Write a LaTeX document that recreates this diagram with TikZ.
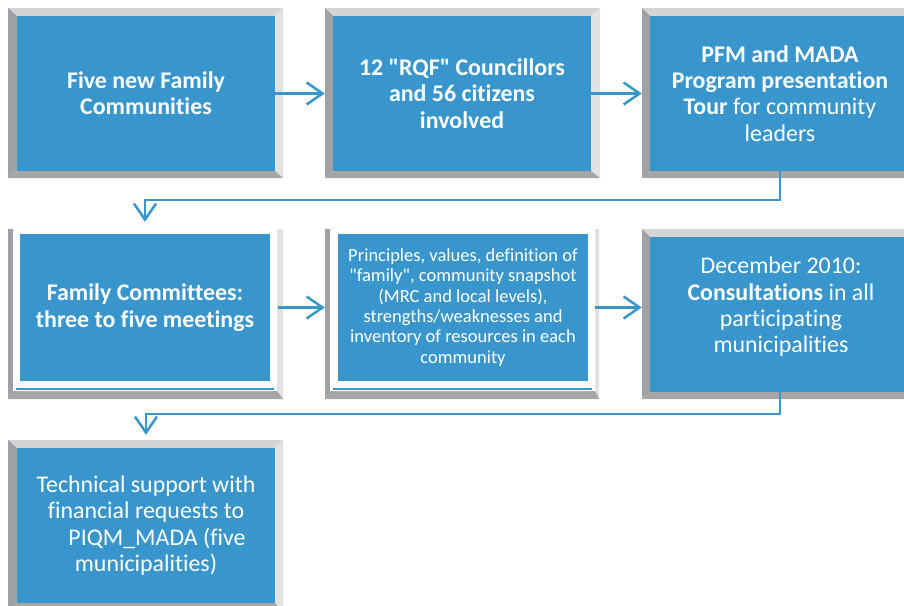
\documentclass[tikz,border=0pt]{standalone}
\usepackage{fontspec}
\setmainfont[Ligatures={TeXOff,NoCommon}]{Carlito}
\usetikzlibrary{arrows.meta,calc}
\definecolor{boxblue}{RGB}{56,150,204}
\definecolor{bvtop}{RGB}{212,212,212}
\definecolor{bvleft}{RGB}{158,161,165}
\definecolor{bvright}{RGB}{226,226,226}
\definecolor{bvbot}{RGB}{166,166,166}
\newcommand\bevelbox[8]{%
  \fill[bvtop] (#1,#2) -- (#3,#2) -- (#7,#6) -- (#5,#6) -- cycle;
  \fill[bvleft] (#1,#2) -- (#5,#6) -- (#5,#8) -- (#1,#4) -- cycle;
  \fill[bvright] (#3,#2) -- (#7,#6) -- (#7,#8) -- (#3,#4) -- cycle;
  \fill[bvbot] (#1,#4) -- (#5,#8) -- (#7,#8) -- (#3,#4) -- cycle;
}
\tikzset{
  bluebox/.style={fill=boxblue, draw=none, text=white, align=center, inner sep=0pt},
  bigtext/.style={font=\fontsize{23.9}{26.3}\selectfont},
  smalltext/.style={font=\fontsize{18.5}{20.3}\selectfont},
  plaintext/.style={text=white, align=center, inner sep=0pt},
  arr/.style={draw=boxblue, line width=2.5pt, -{Straight Barb[length=16pt,width=22pt,line width=2.5pt]}},
}
\begin{document}
\begin{tikzpicture}[x=1pt,y=-1pt]
\useasboundingbox (0,0) rectangle (904,605);
\clip (0,0) rectangle (904,605);
\fill[white] (0,0) rectangle (904,605);

% row 1 frames
\bevelbox{8}{8}{283}{178}{17}{16}{275}{171}
\bevelbox{325}{8}{600}{178}{333}{16}{591}{171}
\bevelbox{642}{8}{918}{178}{650}{16}{910}{171}
% row 2 frames
\bevelbox{8}{229}{283}{399}{13}{229}{277}{391}
\bevelbox{325}{229}{599}{399}{330}{229}{595}{391}
\bevelbox{642}{229}{918}{399}{650}{237}{910}{392}
% row 3 frame
\bevelbox{8}{440}{283}{611}{17}{448}{275}{603}

% white inner panels of row 2
\fill[white, rounded corners=4pt] (13,229) rectangle (277,391);
\draw[boxblue, line width=2.5pt] (16,389) -- (274,389);
\fill[white, rounded corners=4pt] (330,229) rectangle (595,391);
\draw[boxblue, line width=2.5pt] (333,389) -- (592,389);

% nodes
\node[bluebox, bigtext, minimum width=258pt, minimum height=155pt] (b1) at (146,93.5)
  {\textbf{Five new Family}\\\textbf{Communities}};
\node[bluebox, bigtext, minimum width=258pt, minimum height=155pt] (b2) at (462,93.5)
  {\textbf{12 "RQF" Councillors}\\\textbf{and 56 citizens}\\\textbf{involved}};
\node[bluebox, bigtext, minimum width=260pt, minimum height=155pt] (b3) at (780,93.5)
  {\textbf{PFM and MADA}\\\textbf{Program presentation}\\\textbf{Tour} for community\\leaders};
\node[bluebox, bigtext, minimum width=250pt, minimum height=147pt] (b4) at (145,307.5)
  {\textbf{Family Committees:}\\\textbf{three to five meetings}};
\node[bluebox, smalltext, minimum width=250pt, minimum height=147pt] (b5) at (463,307.5)
  {Principles, values, definition of\\"family", community snapshot\\(MRC and local levels),\\strengths/weaknesses and\\inventory of resources in each\\community};
\node[bluebox, minimum width=260pt, minimum height=155pt] (b6) at (780,314.5) {};
\node[plaintext, bigtext] (t6) at (781,307)
  {December 2010:\\\textbf{Consultations} in all\\participating\\municipalities};
\node[bluebox, bigtext, minimum width=258pt, minimum height=155pt] (b7) at (146,525.5)
  {Technical support with\\financial requests to\\\hspace*{22pt}PIQM\_MADA (five\\municipalities)};

% connectors
\draw[arr] (b1.east) -- ($(b2.west)+(-8,0)$);
\draw[arr] (b2.east) -- ($(b3.west)+(-8,0)$);
\draw[arr] (b3.south) -- ++(0,29) -| ($(b4.north)+(0,-12)$);
\draw[arr] ($(b4.east)+(8,0)$) -- ($(b5.west)+(-13,0)$);
\draw[arr] ($(b5.east)+(7,0)$) -- ($(b6.west |- b5.east)+(-8,0)$);
\draw[arr] (b6.south) -- ++(0,22) -| ($(b7.north)+(0,-13)$);
\end{tikzpicture}
\end{document}
